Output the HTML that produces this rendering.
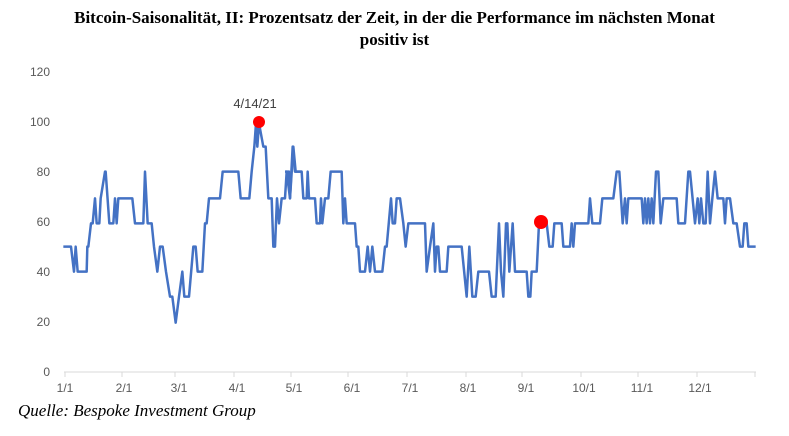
<!DOCTYPE html>
<html><head><meta charset="utf-8"><style>
body{margin:0;background:#fff;width:789px;height:436px;overflow:hidden;position:relative}
.t{position:absolute;left:0;width:789px;text-align:center;font:bold 17px "Liberation Serif",serif;color:#000;line-height:22px;top:7px}
.s{position:absolute;left:18px;top:401px;font:italic 17px "Liberation Serif",serif;color:#000}
</style></head><body>
<div class="t">Bitcoin-Saisonalität, II: Prozentsatz der Zeit, in der die Performance im nächsten Monat<br>positiv ist</div>
<svg width="789" height="436" style="position:absolute;left:0;top:0">
<g font-family="Liberation Sans,sans-serif" font-size="12" fill="#595959" text-anchor="end">
<text x="50" y="376">0</text><text x="50" y="326">20</text><text x="50" y="276">40</text><text x="50" y="226">60</text><text x="50" y="176">80</text><text x="50" y="126">100</text><text x="50" y="76">120</text>
</g>
<line x1="64" y1="372" x2="756" y2="372" stroke="#d9d9d9" stroke-width="1"/>
<g stroke="#d9d9d9"><line x1="65" y1="372" x2="65" y2="377"/><line x1="122" y1="372" x2="122" y2="377"/><line x1="175" y1="372" x2="175" y2="377"/><line x1="234" y1="372" x2="234" y2="377"/><line x1="291" y1="372" x2="291" y2="377"/><line x1="348" y1="372" x2="348" y2="377"/><line x1="407" y1="372" x2="407" y2="377"/><line x1="466" y1="372" x2="466" y2="377"/><line x1="522" y1="372" x2="522" y2="377"/><line x1="581" y1="372" x2="581" y2="377"/><line x1="638" y1="372" x2="638" y2="377"/><line x1="697" y1="372" x2="697" y2="377"/><line x1="755" y1="372" x2="755" y2="377"/></g>
<g font-family="Liberation Sans,sans-serif" font-size="12" fill="#595959" text-anchor="middle">
<text x="65" y="392">1/1</text><text x="124" y="392">2/1</text><text x="179" y="392">3/1</text><text x="237" y="392">4/1</text><text x="294" y="392">5/1</text><text x="352" y="392">6/1</text><text x="410" y="392">7/1</text><text x="468" y="392">8/1</text><text x="526" y="392">9/1</text><text x="584" y="392">10/1</text><text x="642" y="392">11/1</text><text x="700" y="392">12/1</text>
</g>
<g fill="none" stroke="#4472c4" stroke-width="2.5" stroke-linejoin="round">
<polyline vector-effect="non-scaling-stroke" transform="translate(55,80) scale(0.33333)" points="25,500 48,500 57,575 62,500 68,575 95,575 97,500 100,500 108,430 113,430 120,355 125,430 133,430 137,355 150,275 152,275 163,430 175,430 180,355 185,430 190,355 232,355 240,430 265,430 270,275 278,430 290,430 297,500 307,575 315,500 323,500 333,575 345,650 352,650 362,728 372,650 382,575 388,650 402,650 415,500 422,500 428,575 442,575 450,430 455,430 462,355 495,355 503,275 550,275 557,355 583,355 590,275 598,200 603,130 607,200 612,130 625,200 632,200 640,355 650,355 655,500 660,500 666,355 672,430 680,355 690,355 695,275 705,355 713,200 720,275 740,275"/>
<polyline vector-effect="non-scaling-stroke" transform="translate(285,80) scale(0.33333)" points="0,275 12,275 15,355 25,200 32,275 50,275 55,355 65,355 68,275 72,355 90,355 95,430 105,430 108,355 112,430 120,355 130,355 137,275 170,275 175,430 180,355 185,430 210,430 215,500 220,500 225,575 240,575 248,500 255,575 262,500 270,575 292,575 300,500 305,500 318,355 323,430 330,430 335,355 345,355 355,430 362,500 370,430 420,430 425,575 435,500 445,430 450,575 455,500 460,500 465,575 485,575 490,500 530,500 545,650 553,500 562,650 572,650 580,575 612,575 620,650 632,650 642,430 648,575 655,650 663,430 667,430 673,575 683,430 690,575 690,575 720,575"/>
<polyline vector-effect="non-scaling-stroke" transform="translate(515,80) scale(0.33333)" points="0,575 35,575 40,650 46,650 50,575 65,575 72,430 80,430 95,430 103,500 113,500 118,430 140,430 145,500 165,500 170,430 175,500 180,430 220,430 225,355 232,430 255,430 262,355 295,355 305,275 313,275 323,430 330,355 335,430 340,355 380,355 385,430 390,355 395,430 400,355 405,430 410,355 415,430 423,275 430,275 437,430 445,355 485,355 490,430 510,430 520,275 525,275 540,430 548,355 553,430 558,355 565,430 572,430 578,275 585,430 592,355 600,275 608,355 625,355 630,430 635,355 645,355 655,430 665,430 675,500 683,500 688,430 695,430 700,500 722,500"/>
</g>
<circle cx="259" cy="122" r="6" fill="#ff0000"/>
<circle cx="541" cy="222" r="7" fill="#ff0000"/>
<text x="255" y="108" font-family="Liberation Sans,sans-serif" font-size="13" fill="#404040" text-anchor="middle">4/14/21</text>
</svg>
<div class="s">Quelle: Bespoke Investment Group</div>
</body></html>
